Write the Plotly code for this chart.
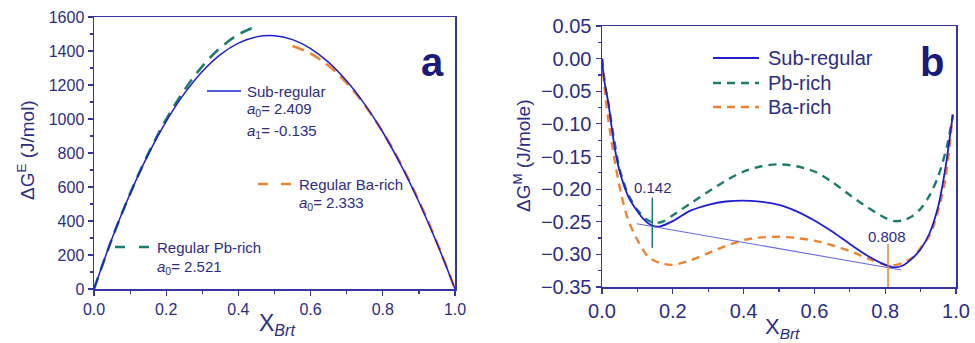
import plotly.graph_objects as go

# ---------------- data: panel a ----------------
xa_sub = [0.0, 0.05, 0.10, 0.15, 0.20, 0.25, 0.30, 0.35, 0.40, 0.45, 0.50,
          0.55, 0.60, 0.65, 0.70, 0.75, 0.80, 0.85, 0.90, 0.95, 1.0]
ya_sub = [0, 297, 560, 790, 986, 1149, 1280, 1379, 1446, 1483, 1490,
          1467, 1414, 1333, 1223, 1086, 922, 730, 512, 269, 0]

xa_pb = [0.0, 0.05, 0.10, 0.15, 0.20, 0.25, 0.30, 0.35, 0.40, 0.44]
ya_pb = [0, 296, 561, 795, 998, 1169, 1310, 1419, 1497, 1537]

xa_ba = [0.55, 0.60, 0.65, 0.70, 0.75, 0.80, 0.85, 0.90, 0.95, 1.0]
ya_ba = [1429, 1385, 1313, 1212, 1082, 924, 736, 519, 274, 0]

# ---------------- data: panel b ----------------
xb_sub = [0.0, 0.005, 0.01, 0.018, 0.027, 0.037, 0.051, 0.074, 0.10, 0.121, 0.142, 0.165,
          0.20, 0.25, 0.30, 0.35, 0.42, 0.50, 0.55, 0.60, 0.65, 0.70, 0.75, 0.80,
          0.825, 0.85, 0.875, 0.90, 0.925, 0.95, 0.97, 0.991]
yb_sub = [0.0, -0.028, -0.045, -0.068, -0.104, -0.140, -0.175, -0.211, -0.234, -0.248, -0.256, -0.257,
          -0.249, -0.233, -0.224, -0.219, -0.218, -0.224, -0.234, -0.248, -0.265, -0.284, -0.302, -0.316,
          -0.320, -0.317, -0.307, -0.292, -0.268, -0.226, -0.168, -0.086]

xb_pb = [0.0, 0.01, 0.02, 0.03, 0.05, 0.075, 0.10, 0.125, 0.15, 0.175, 0.20, 0.25, 0.30,
         0.35, 0.40, 0.45, 0.50, 0.55, 0.60, 0.65, 0.70, 0.75, 0.80, 0.825, 0.85, 0.875,
         0.90, 0.925, 0.95, 0.975, 0.991]
yb_pb = [0.0, -0.045, -0.075, -0.110, -0.170, -0.209, -0.232, -0.246, -0.252, -0.249, -0.240,
         -0.222, -0.204, -0.187, -0.173, -0.165, -0.162, -0.165, -0.173, -0.189, -0.209, -0.228,
         -0.244, -0.249, -0.248, -0.242, -0.230, -0.210, -0.180, -0.133, -0.086]

xb_ba = [0.0, 0.01, 0.018, 0.037, 0.056, 0.074, 0.10, 0.131, 0.169, 0.20, 0.25, 0.30, 0.35,
         0.40, 0.45, 0.50, 0.55, 0.60, 0.65, 0.70, 0.75, 0.80, 0.82, 0.85, 0.88, 0.90,
         0.927, 0.95, 0.97, 0.991]
yb_ba = [0.0, -0.060, -0.094, -0.160, -0.212, -0.247, -0.278, -0.304, -0.314, -0.316, -0.309,
         -0.298, -0.287, -0.278, -0.274, -0.273, -0.275, -0.279, -0.286, -0.295, -0.306, -0.316,
         -0.317, -0.313, -0.304, -0.290, -0.270, -0.232, -0.185, -0.086]

x_tangent = [0.098, 0.846]
y_tangent = [-0.253, -0.324]
x_mark_pb = [0.142, 0.142]
y_mark_pb = [-0.213, -0.290]
x_mark_ba = [0.808, 0.808]
y_mark_ba = [-0.284, -0.350]

# ---------------- styling ----------------
W, H = 975, 343
FONT = "Arial, Liberation Sans, sans-serif"
NAVY = "#2d2d85"
AXIS = "#3535a6"
BLUE = "#1e1ed2"
TANG = "#6a6aec"
GREEN = "#1d7d6c"
ORANGE = "#f08232"


def px(x, y):
    return x / W, 1 - y / H


fig = go.Figure()

# panel a
fig.add_trace(go.Scatter(x=xa_pb, y=ya_pb, mode="lines", line=dict(color=GREEN, width=2.6, dash="12px,8px", shape="spline"), xaxis="x", yaxis="y"))
fig.add_trace(go.Scatter(x=xa_ba, y=ya_ba, mode="lines", line=dict(color=ORANGE, width=2.6, dash="12px,7px", shape="spline"), xaxis="x", yaxis="y"))
fig.add_trace(go.Scatter(x=xa_sub, y=ya_sub, mode="lines", line=dict(color=BLUE, width=1.5, shape="spline"), xaxis="x", yaxis="y"))

# panel b
fig.add_trace(go.Scatter(x=xb_pb, y=yb_pb, mode="lines", line=dict(color=GREEN, width=2.4, dash="8px,6px", shape="spline", smoothing=0.8), xaxis="x2", yaxis="y2"))
fig.add_trace(go.Scatter(x=xb_ba, y=yb_ba, mode="lines", line=dict(color=ORANGE, width=2.4, dash="8px,6px", shape="spline", smoothing=0.8), xaxis="x2", yaxis="y2"))
fig.add_trace(go.Scatter(x=xb_sub, y=yb_sub, mode="lines", line=dict(color=BLUE, width=1.8, shape="spline", smoothing=0.8), xaxis="x2", yaxis="y2"))
fig.add_trace(go.Scatter(x=x_tangent, y=y_tangent, mode="lines", line=dict(color=TANG, width=1.1), xaxis="x2", yaxis="y2"))
fig.add_trace(go.Scatter(x=x_mark_pb, y=y_mark_pb, mode="lines", line=dict(color=GREEN, width=1.5), xaxis="x2", yaxis="y2"))
fig.add_trace(go.Scatter(x=x_mark_ba, y=y_mark_ba, mode="lines", line=dict(color=ORANGE, width=1.5), xaxis="x2", yaxis="y2"))

common_ax = dict(showgrid=False, zeroline=False, showline=True, linecolor=AXIS, linewidth=1.5,
                 mirror=True, ticks="outside", ticklen=5, tickwidth=1.2, tickcolor=AXIS,
                 automargin=False)

fig.update_layout(
    width=W, height=H, margin=dict(l=0, r=0, t=0, b=0, autoexpand=False),
    paper_bgcolor="white", plot_bgcolor="white", showlegend=False,
    font=dict(family=FONT, color=NAVY),
    xaxis=dict(domain=[94 / W, 455 / W], range=[0, 1], tickvals=[0, 0.2, 0.4, 0.6, 0.8, 1.0],
               ticktext=["0.0", "0.2", "0.4", "0.6", "0.8", "1.0"], tickfont=dict(size=16, color=NAVY),
               minor=dict(dtick=0.1, ticklen=3, tickcolor=AXIS, ticks="outside"), anchor="y", **common_ax),
    yaxis=dict(domain=[1 - 289 / H, 1 - 17 / H], range=[0, 1600], dtick=200,
               tickfont=dict(size=16, color=NAVY),
               minor=dict(dtick=100, ticklen=3, tickcolor=AXIS, ticks="outside"), anchor="x", **common_ax),
    xaxis2=dict(domain=[602 / W, 956 / W], range=[0, 1], tickvals=[0, 0.2, 0.4, 0.6, 0.8, 1.0],
                ticktext=["0.0", "0.2", "0.4", "0.6", "0.8", "1.0"], tickfont=dict(size=20, color=NAVY),
                minor=dict(dtick=0.1, ticklen=3, tickcolor=AXIS, ticks="outside"), anchor="y2", **common_ax),
    yaxis2=dict(domain=[1 - 287 / H, 1 - 26 / H], range=[-0.35, 0.05], dtick=0.05, tickformat=".2f",
                tickfont=dict(size=20, color=NAVY),
                minor=dict(dtick=0.025, ticklen=3, tickcolor=AXIS, ticks="outside"), anchor="x2", **common_ax),
)

ann = []


def add_text(x, y, text, size, xanchor="left", yanchor="middle", color=NAVY, angle=0):
    xp, yp = px(x, y)
    ann.append(dict(x=xp, y=yp, xref="paper", yref="paper", text=text, showarrow=False,
                    xanchor=xanchor, yanchor=yanchor, font=dict(size=size, color=color, family=FONT),
                    textangle=angle))


shapes = []


def add_sample(x0, x1, y, color, width, dash):
    a0, b0 = px(x0, y)
    a1, _ = px(x1, y)
    shapes.append(dict(type="line", xref="paper", yref="paper", x0=a0, x1=a1, y0=b0, y1=b0,
                       line=dict(color=color, width=width, dash=dash)))


# panel a legends
add_sample(207, 241, 91, BLUE, 1.5, "solid")
add_text(245, 91, "Sub-regular", 15)
add_text(245, 110, "<i>a</i><sub>0</sub>= 2.409", 15)
add_text(245, 131, "<i>a</i><sub>1</sub>= -0.135", 15)
add_sample(258, 293, 184, ORANGE, 2.6, "10px,13px")
add_text(297, 184, "Regular Ba-rich", 15)
add_text(297, 203, "<i>a</i><sub>0</sub>= 2.333", 15)
add_sample(115, 152, 247, GREEN, 2.6, "10px,14px")
add_text(155, 247, "Regular Pb-rich", 15)
add_text(155, 267, "<i>a</i><sub>0</sub>= 2.521", 15)
add_text(432, 62, "<b>a</b>", 40, xanchor="center", color="#1a1a7c")

# panel a axis titles
add_text(26, 150, "ΔG<sup>E</sup> (J/mol)", 19, xanchor="center", angle=-90)
add_text(277, 324, "X<sub><i>Brt</i></sub>", 23, xanchor="center")

# panel b legend
add_sample(713, 759, 58, BLUE, 1.8, "solid")
add_text(766, 58, "Sub-regular", 20)
add_sample(713, 759, 83, GREEN, 2.4, "8px,6px")
add_text(766, 83, "Pb-rich", 20)
add_sample(713, 759, 107, ORANGE, 2.4, "8px,6px")
add_text(766, 107, "Ba-rich", 20)
add_text(932, 62, "<b>b</b>", 40, xanchor="center", color="#1a1a7c")

add_text(653, 187, "0.142", 15, xanchor="center")
add_text(887, 236, "0.808", 15, xanchor="center")

# panel b axis titles
add_text(522, 156, "ΔG<sup>M</sup> (J/mole)", 19, xanchor="center", angle=-90)
add_text(782, 328, "X<sub><i>Brt</i></sub>", 22, xanchor="center")

fig.update_layout(annotations=ann, shapes=shapes)
fig.write_html("out.html", config={"displayModeBar": False, "staticPlot": True},
               post_script="document.body.style.margin='0';document.body.style.overflow='hidden';")
